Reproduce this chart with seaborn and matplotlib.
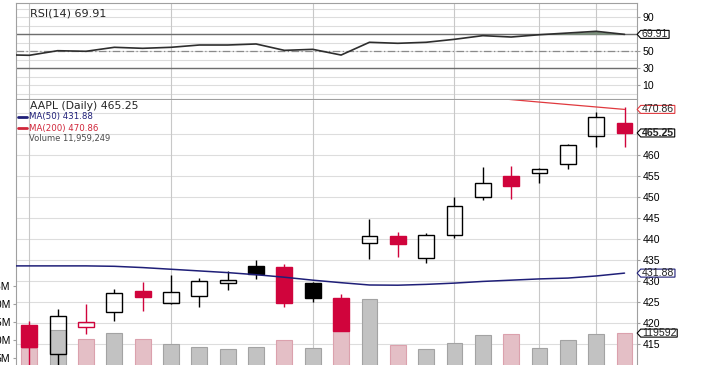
import numpy as np
import pandas as pd
import matplotlib
matplotlib.use("Agg")
import matplotlib.pyplot as plt
import matplotlib.transforms as mtransforms
from matplotlib.colors import to_rgba
from matplotlib.lines import Line2D
from matplotlib.path import Path
import seaborn as sns

# AAPL daily candles, 22 sessions
days = list(range(22))
opens = [419.5, 412.6, 419.0, 422.6, 427.6, 424.7, 426.4, 429.6, 433.5, 433.3, 429.5,
         425.9, 439.1, 440.8, 435.4, 441.0, 450.0, 455.1, 455.7, 457.9, 464.5, 467.6]
highs = [420.4, 423.3, 424.5, 428.1, 429.8, 431.4, 430.6, 432.3, 435.0, 434.0, 429.8,
         426.9, 444.8, 441.6, 441.4, 450.1, 457.2, 457.5, 457.0, 462.7, 470.3, 471.4]
lows = [409.5, 409.8, 417.4, 420.5, 422.9, 424.5, 423.9, 427.8, 430.5, 423.9, 425.0,
        418.0, 435.3, 435.7, 434.4, 440.2, 449.3, 449.5, 453.3, 456.6, 461.8, 461.8]
closes = [414.2, 421.7, 420.3, 427.1, 426.3, 427.3, 430.1, 430.2, 431.7, 424.7, 426.0,
          418.2, 440.6, 438.8, 441.0, 447.9, 453.4, 452.6, 456.7, 462.4, 469.0, 465.25]
prev_close = 417.4
volume_m = [7.93, 12.8, 10.3, 12.0, 10.3, 8.87, 8.04, 7.49, 8.12, 10.06, 7.85,
            12.5, 21.4, 8.6, 7.57, 9.14, 11.35, 11.7, 7.85, 10.06, 11.7, 11.959249]

# indicators start one session earlier (left edge of the chart)
ind_days = list(range(-1, 22))
ma50 = [433.6, 433.6, 433.6, 433.6, 433.5, 433.2, 432.8, 432.4, 432.0, 431.5, 430.9, 430.2,
        429.6, 429.05, 429.0, 429.2, 429.5, 429.9, 430.2, 430.5, 430.7, 431.2, 431.88]
ma200_days = list(range(16, 22))
ma200 = [473.8, 473.2, 472.6, 472.02, 471.44, 470.86]
rsi = [46.0, 45.3, 50.7, 50.0, 54.7, 53.5, 54.7, 57.4, 57.4, 58.6, 51.1, 52.3, 45.6,
       60.6, 59.4, 60.6, 64.1, 68.4, 66.8, 69.5, 71.5, 73.5, 69.91]

grid_days = [0, 5, 10, 15, 18, 20]
price_ticks = list(range(415, 471, 5))
hidden_price_labels = [465, 470]   # covered by the value tags
rsi_ticks = [10, 30, 50, 70, 90]
vol_ticks = [5, 10, 15, 20, 25]

sns.set_style("white")
plt.rcParams["font.family"] = ["DejaVu Sans"]

W, H = 707, 365
fig = plt.figure(figsize=(W / 100, H / 100), dpi=100)


def rect(l, t, r, b):
    return [l / W, 1 - b / H, (r - l) / W, (b - t) / H]


ax_rsi = fig.add_axes(rect(16, 3, 637, 99))
ax_vol = fig.add_axes(rect(16, 100, 637, 365))
ax_px = ax_vol.twinx()

xlim = (-0.47, 21.44)
red = "#d0043c"
grid_c = "#dddddd"
vgrid_c = "#c8c8c8"
spine_c = "#a0a0a0"
navy = "#1f1f78"
tick_font = dict(family="Liberation Sans", size=7.6)


def tag_box(x0, y0, width, height, mutation_size):
    px, py = 1.0, -1.0
    l, r = x0 - px, x0 + width + px
    b, t = y0 - py, y0 + height + py
    m = 0.5 * (b + t)
    tip = 0.45 * (t - b)
    return Path([(l, b), (r, b), (r, t), (l, t), (l - tip, m), (l, b)], closed=True)


def tag(ax, trans, y, text, ec, bold=False):
    ax.annotate(text, xy=(1, y), xycoords=trans, xytext=(3.4, 0), textcoords="offset points",
                ha="left", va="center", fontsize=7.6, family="Liberation Sans",
                fontweight="bold" if bold else "normal",
                bbox=dict(boxstyle=tag_box, fc="white", ec=ec, lw=0.8),
                annotation_clip=False, zorder=6)


# ---- RSI panel
for v in range(0, 101, 10):
    ax_rsi.axhline(v, color=grid_c, lw=0.8, zorder=0)
for d in grid_days:
    ax_rsi.axvline(d, color=vgrid_c, lw=0.8, zorder=0)
ax_rsi.axhline(70, color="#6e6e6e", lw=1.0, zorder=1)
ax_rsi.axhline(30, color="#6e6e6e", lw=1.0, zorder=1)
ax_rsi.axhline(50, color="#8a8a8a", lw=0.9, dashes=(6, 2, 1, 2), zorder=1)
rsi_arr = np.array(rsi)
ax_rsi.fill_between(ind_days, 70, rsi_arr, where=rsi_arr > 70, interpolate=True,
                    color="#7c917c", lw=0, zorder=2)
sns.lineplot(x=ind_days, y=rsi, ax=ax_rsi, color="#2e2e2e", lw=1.2, zorder=3)
ax_rsi.set(xlim=xlim, ylim=(-6.1, 106.8), xlabel="", ylabel="")
ax_rsi.set_xticks([])
ax_rsi.yaxis.tick_right()
ax_rsi.set_yticks(rsi_ticks)
ax_rsi.set_yticklabels(["" if v == 70 else str(v) for v in rsi_ticks], **tick_font)
ax_rsi.tick_params(axis="y", length=2.5, width=0.8, pad=1.5, color=spine_c, labelcolor="black")
for s in ax_rsi.spines.values():
    s.set_color(spine_c)
    s.set_linewidth(0.8)
tag(ax_rsi, ax_rsi.get_yaxis_transform(), rsi[-1], f"{rsi[-1]:.2f}", "black")

# ---- volume (behind) and price (front)
trans_grid = mtransforms.blended_transform_factory(ax_vol.transAxes, ax_px.transData)
for p in price_ticks:
    ax_vol.plot([0, 1], [p, p], transform=trans_grid, color=grid_c, lw=0.8, zorder=0)
for d in grid_days:
    ax_vol.axvline(d, color=vgrid_c, lw=0.8, zorder=0)

closes_prev = [prev_close] + closes[:-1]
direction = ["down" if c < p else "up" for c, p in zip(closes, closes_prev)]
vol_df = pd.DataFrame({"day": days, "volume": volume_m, "dir": direction})
vol_fill = {"up": "#c2c2c2", "down": "#eab9c2"}
vol_edge = {"up": "#a3a3a3", "down": "#dba1ad"}
sns.barplot(data=vol_df, x="day", y="volume", hue="dir", palette=vol_fill, dodge=False,
            native_scale=True, width=0.56, errorbar=None, legend=False, ax=ax_vol,
            linewidth=0.8, zorder=1)
for patch in ax_vol.patches:
    fc = patch.get_facecolor()
    key = "up" if np.allclose(fc[:3], to_rgba(vol_fill["up"])[:3], atol=0.02) else "down"
    patch.set_edgecolor(vol_edge[key])

ax_vol.set(xlim=xlim, ylim=(3.15, 76.35), xlabel="", ylabel="")
ax_vol.set_xticks([])
ax_vol.set_yticks(vol_ticks)
ax_vol.set_yticklabels([f"{v}M" for v in vol_ticks], **tick_font)
ax_vol.tick_params(axis="y", length=2.5, width=0.8, pad=1.5, color=spine_c, labelcolor="black")
for name, s in ax_vol.spines.items():
    s.set_visible(name == "left")
    s.set_color(spine_c)
    s.set_linewidth(0.8)

body_w = 0.56
for d, o, h, l, c, p in zip(days, opens, highs, lows, closes, closes_prev):
    col = red if c < p else "black"
    top, bot = max(o, c), min(o, c)
    if c >= o:
        ax_px.vlines(d, top, h, color=col, lw=1.0, zorder=3)
        ax_px.vlines(d, l, bot, color=col, lw=1.0, zorder=3)
        ax_px.bar(d, top - bot, bottom=bot, width=body_w, facecolor="none",
                  edgecolor=col, lw=1.0, zorder=4)
    else:
        ax_px.vlines(d, l, h, color=col, lw=1.0, zorder=3)
        ax_px.bar(d, top - bot, bottom=bot, width=body_w, color=col,
                  edgecolor=col, lw=1.0, zorder=4)

sns.lineplot(x=ind_days, y=ma50, ax=ax_px, color=navy, lw=1.1, zorder=5)
sns.lineplot(x=ma200_days, y=ma200, ax=ax_px, color="#e0393e", lw=0.9, zorder=5)

ax_px.set(xlim=xlim, ylim=(410.0, 473.1), xlabel="", ylabel="")
ax_px.set_yticks(price_ticks)
ax_px.set_yticklabels(["" if v in hidden_price_labels else str(v) for v in price_ticks],
                      **tick_font)
ax_px.tick_params(axis="y", length=2.5, width=0.8, pad=1.5, color=spine_c, labelcolor="black")
for name, s in ax_px.spines.items():
    s.set_visible(name == "right")
    s.set_color(spine_c)
    s.set_linewidth(0.8)

tag(ax_px, ax_px.get_yaxis_transform(), ma200[-1], f"{ma200[-1]:.2f}", "#e0393e")
tag(ax_px, ax_px.get_yaxis_transform(), closes[-1], f"{closes[-1]:.2f}", "black", bold=True)
tag(ax_px, ax_px.get_yaxis_transform(), ma50[-1], f"{ma50[-1]:.2f}", navy)
tag(ax_px, ax_vol.get_yaxis_transform(), volume_m[-1], "119592", "black")

# ---- legend texts
fig.text(30 / W, 1 - 13 / H, "RSI(14) 69.91", fontsize=8, va="center")
fig.text(30 / W, 1 - 106 / H, "AAPL (Daily) 465.25", fontsize=7.8, va="center")
fig.text(29 / W, 1 - 117 / H, "MA(50) 431.88", fontsize=6.2, color=navy, va="center")
fig.text(29 / W, 1 - 128.5 / H, "MA(200) 470.86", fontsize=6.2, color="#d0263a", va="center")
fig.text(29 / W, 1 - 139 / H, "Volume 11,959,249", fontsize=6, color="#4a4a4a", va="center")
fig.add_artist(Line2D([18 / W, 27 / W], [1 - 117 / H] * 2, color=navy, lw=2))
fig.add_artist(Line2D([18 / W, 27 / W], [1 - 128.5 / H] * 2, color="#d0263a", lw=2))

fig.savefig("out.png", dpi=100)
